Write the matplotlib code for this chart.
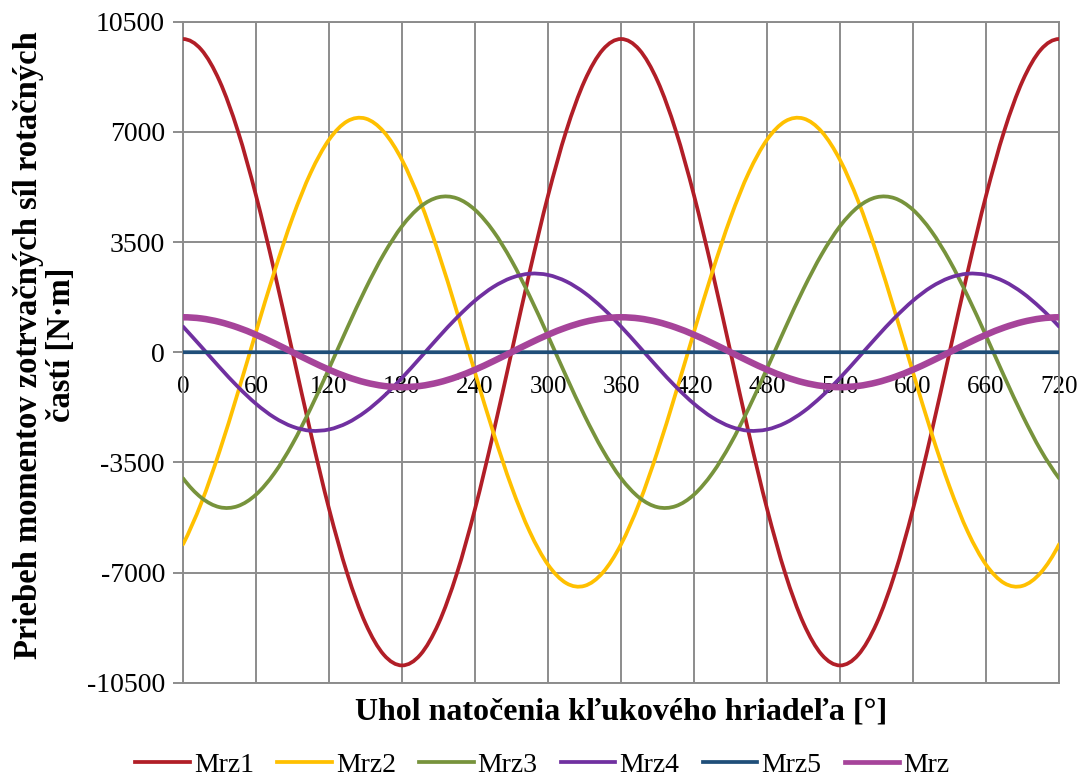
import matplotlib
matplotlib.use("Agg")
import matplotlib.pyplot as plt
from matplotlib.path import Path
from matplotlib.patches import PathPatch
from matplotlib.lines import Line2D
import numpy as np

plt.rcParams['font.family'] = 'serif'
plt.rcParams['font.serif'] = ['Liberation Serif', 'DejaVu Serif']
plt.rcParams['axes.unicode_minus'] = False

# uhol natocenia [deg], krok 15 deg
uhol = list(range(0, 721, 15))

mrz1 = [9950, 9611, 8617, 7036, 4975, 2575, 0, -2575, -4975, -7036, -8617, -9611,
        -9950, -9611, -8617, -7036, -4975, -2575, 0, 2575, 4975, 7036, 8617, 9611,
        9950, 9611, 8617, 7036, 4975, 2575, 0, -2575, -4975, -7036, -8617, -9611,
        -9950, -9611, -8617, -7036, -4975, -2575, 0, 2575, 4975, 7036, 8617, 9611,
        9950]
mrz2 = [-6103, -4789, -3148, -1293, 649, 2548, 4273, 5707, 6752, 7337, 7422, 7001,
        6103, 4789, 3148, 1293, -649, -2548, -4273, -5707, -6752, -7337, -7422, -7001,
        -6103, -4789, -3148, -1293, 649, 2548, 4273, 5707, 6752, 7337, 7422, 7001,
        6103, 4789, 3148, 1293, -649, -2548, -4273, -5707, -6752, -7337, -7422, -7001,
        -6103]
mrz3 = [-4005, -4621, -4923, -4889, -4522, -3847, -2910, -1774, -517, 774, 2013, 3115,
        4005, 4621, 4923, 4889, 4522, 3847, 2910, 1774, 517, -774, -2013, -3115,
        -4005, -4621, -4923, -4889, -4522, -3847, -2910, -1774, -517, 774, 2013, 3115,
        4005, 4621, 4923, 4889, 4522, 3847, 2910, 1774, 517, -774, -2013, -3115,
        -4005]
mrz4 = [814, 174, -477, -1096, -1640, -2073, -2364, -2494, -2454, -2247, -1887, -1398,
        -814, -174, 477, 1096, 1640, 2073, 2364, 2494, 2454, 2247, 1887, 1398,
        814, 174, -477, -1096, -1640, -2073, -2364, -2494, -2454, -2247, -1887, -1398,
        -814, -174, 477, 1096, 1640, 2073, 2364, 2494, 2454, 2247, 1887, 1398,
        814]
mrz5 = [0] * 49
mrz = [1110, 1072, 961, 785, 555, 287, 0, -287, -555, -785, -961, -1072,
       -1110, -1072, -961, -785, -555, -287, 0, 287, 555, 785, 961, 1072,
       1110, 1072, 961, 785, 555, 287, 0, -287, -555, -785, -961, -1072,
       -1110, -1072, -961, -785, -555, -287, 0, 287, 555, 785, 961, 1072,
       1110]

nazvy = ['Mrz1', 'Mrz2', 'Mrz3', 'Mrz4', 'Mrz5', 'Mrz']
rady = [mrz1, mrz2, mrz3, mrz4, mrz5, mrz]
farby = ['#B11E27', '#FFC000', '#77933C', '#7030A0', '#1F4E79', '#A6449A']
hrubky = [2.7, 2.7, 2.7, 2.7, 2.7, 4.7]

y_ticks = [-10500, -7000, -3500, 0, 3500, 7000, 10500]
x_ticks = list(range(0, 721, 60))


def hladka_cesta(x, y):
    # Catmull-Rom cez body -> kubicke Bezierove segmenty (ako "smooth line")
    p = np.column_stack([x, y]).astype(float)
    zac = 3 * p[0] - 3 * p[1] + p[2]
    kon = 3 * p[-1] - 3 * p[-2] + p[-3]
    p = np.vstack([zac, p, kon])
    verts = [p[1]]
    codes = [Path.MOVETO]
    for i in range(1, len(p) - 2):
        c1 = p[i] + (p[i + 1] - p[i - 1]) / 6
        c2 = p[i + 1] - (p[i + 2] - p[i]) / 6
        verts += [c1, c2, p[i + 1]]
        codes += [Path.CURVE4] * 3
    return Path(verts, codes)


fig = plt.figure(figsize=(10.85, 7.8), dpi=100)
ax = fig.add_axes([0.1687, 0.1247, 0.8074, 0.8475])

for y, f, lw in zip(rady, farby, hrubky):
    ax.add_patch(PathPatch(hladka_cesta(uhol, y), fill=False, edgecolor=f,
                           lw=lw, capstyle='round', joinstyle='round', zorder=3))

ax.set_xlim(0, 720)
ax.set_ylim(-10500, 10500)
ax.set_xticks(x_ticks)
ax.set_yticks(y_ticks)
ax.grid(True, color='#8C8C8C', lw=1.4)
ax.set_axisbelow(True)

for s in ['top', 'right', 'left']:
    ax.spines[s].set_color('#8C8C8C')
    ax.spines[s].set_linewidth(1.4)
ax.spines['bottom'].set_position(('data', 0))
ax.spines['bottom'].set_visible(False)
ax.axhline(-10500, color='#8C8C8C', lw=1.4, clip_on=False)

ax.tick_params(axis='x', length=0, pad=17, labelsize=18)
ax.tick_params(axis='y', length=7, width=1.4, color='#8C8C8C', pad=6, labelsize=20)

fig.text(0.5724, 1 - 712 / 780, 'Uhol natočenia kľukového hriadeľa [°]',
         ha='center', va='center', fontsize=23, fontweight='bold')
fig.text(45 / 1085, 1 - 345 / 780,
         'Priebeh momentov zotrvačných síl rotačných\nčastí [N·m]',
         ha='center', va='center', rotation=90, fontsize=23.5, fontweight='bold',
         multialignment='center', linespacing=1.1)

handles = [Line2D([], [], color=f, lw=min(lw, 3.4)) for f, lw in zip(farby, hrubky)]
fig.legend(handles, nazvy, loc='center', bbox_to_anchor=(0.5, 1 - 765 / 780),
           ncol=6, frameon=False, fontsize=20, handlelength=1.95,
           handletextpad=0.15, columnspacing=0.85)

fig.savefig('out.png', dpi=100)
